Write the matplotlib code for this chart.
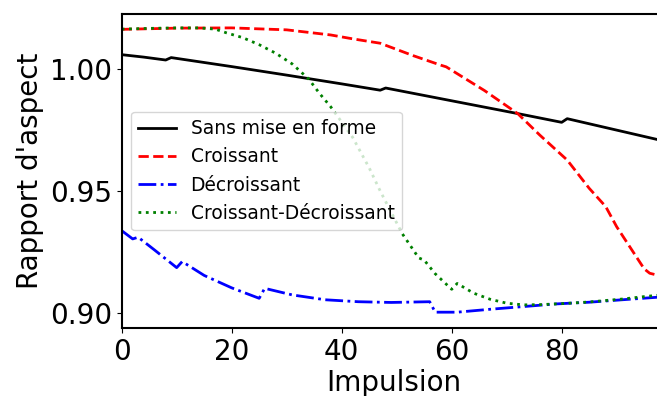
import matplotlib
matplotlib.use("Agg")
import matplotlib.pyplot as plt

# Sans mise en forme
x_sans = [0, 4, 8, 9, 20, 30, 40, 47, 48, 56, 64, 72, 80, 81, 90, 99]
y_sans = [1.0060, 1.0050, 1.0038, 1.0048, 1.0011, 0.9976, 0.9940, 0.9914,
          0.9923, 0.9888, 0.9853, 0.9818, 0.9782, 0.9797, 0.9750, 0.9703]

# Croissant
x_crois = [0, 10, 20, 30, 38, 42, 47, 53, 58, 59, 66, 72, 76, 81, 85, 88, 90, 95, 96, 99]
y_crois = [1.0164, 1.0169, 1.0170, 1.0162, 1.0141, 1.0125, 1.0107, 1.0056,
           1.0017, 1.0010, 0.9912, 0.9818, 0.9730, 0.9627, 0.9511, 0.9436,
           0.9353, 0.9180, 0.9162, 0.9145]

# Décroissant
x_decr = [0, 2, 3, 6, 10, 11, 15, 20, 25, 26, 31, 37, 43, 49, 56, 57, 61,
          67, 73, 79, 85, 91, 99]
y_decr = [0.9337, 0.9303, 0.9310, 0.9257, 0.9185, 0.9210, 0.9153, 0.9102,
          0.9059, 0.9100, 0.9073, 0.9053, 0.9045, 0.9042, 0.9045, 0.9002,
          0.9002, 0.9014, 0.9025, 0.9036, 0.9043, 0.9053, 0.9066]

# Croissant-Décroissant
x_cd = [0, 5, 10, 14, 17, 19, 22, 25, 28, 31, 34, 36, 38, 42, 45, 47, 51,
        54, 55, 57, 60, 61, 64, 67, 70, 73, 76, 80, 85, 91, 95, 99]
y_cd = [1.0165, 1.0168, 1.0170, 1.0170, 1.0165, 1.0150, 1.0130, 1.0101,
        1.0066, 1.0022, 0.9960, 0.9900, 0.9846, 0.9720, 0.9595, 0.9500,
        0.9325, 0.9225, 0.9216, 0.9160, 0.9096, 0.9120, 0.9080, 0.9055,
        0.9039, 0.9032, 0.9033, 0.9037, 0.9044, 0.9056, 0.9066, 0.9075]

labels = ["Sans mise en forme", "Croissant", "Décroissant", "Croissant-Décroissant"]
xticks = [0, 20, 40, 60, 80]
yticks = [0.90, 0.95, 1.00]

fig = plt.figure(figsize=(6.57, 3.96), dpi=100)
ax = fig.add_axes([0.1852, 0.1717, 0.8288, 0.7929])

lw = 2
ax.plot(x_sans, y_sans, color="black", linestyle="-", lw=lw, label=labels[0])
ax.plot(x_crois, y_crois, color="red", linestyle="--", lw=lw, label=labels[1])
ax.plot(x_decr, y_decr, color="blue", linestyle="-.", lw=lw, label=labels[2])
ax.plot(x_cd, y_cd, color="green", linestyle=":", lw=lw, label=labels[3])

ax.set_xlim(0, 99)
ax.set_ylim(0.8937, 1.0227)
ax.set_xticks(xticks)
ax.set_yticks(yticks)
ax.set_yticklabels([f"{v:.2f}" for v in yticks])
ax.tick_params(labelsize=20)
ax.set_xlabel("Impulsion", fontsize=20, labelpad=2)
ax.set_ylabel("Rapport d'aspect", fontsize=20)
for s in ax.spines.values():
    s.set_linewidth(1.5)

ax.legend(loc="center left", fontsize=13.4)

fig.savefig("out.png", dpi=100)
